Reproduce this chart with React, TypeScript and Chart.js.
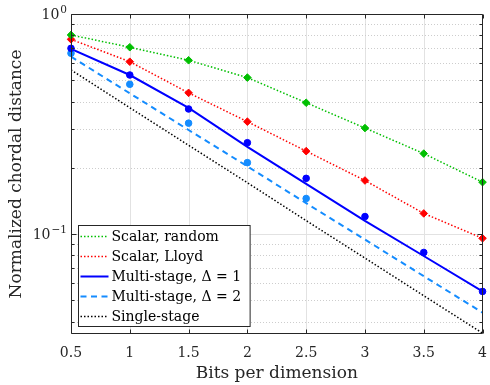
import { useEffect, useRef } from "react";
import { Chart, registerables } from "chart.js";

Chart.register(...registerables);

// ---------- data ----------
const bits = [0.5, 1, 1.5, 2, 2.5, 3, 3.5, 4];
const xTickLabels = ["0.5", "1", "1.5", "2", "2.5", "3", "3.5", "4"];

const scalarRandom = [0.803, 0.706, 0.616, 0.514, 0.395, 0.303, 0.232, 0.172];
const scalarLloyd = [0.767, 0.607, 0.438, 0.324, 0.238, 0.175, 0.124, 0.0956];
const multiStage1Curve = [0.694, 0.528, 0.374, 0.249, 0.169, 0.1146, 0.0794, 0.0548];
const multiStage2Curve = [0.64, 0.436, 0.297, 0.203, 0.138, 0.0943, 0.0643, 0.0439];
const singleStage = [0.557, 0.375, 0.253, 0.171, 0.115, 0.0777, 0.0524, 0.0354];
const multiStage1Sim = [0.698, 0.528, 0.37, 0.26, 0.179, 0.12, 0.0824, 0.0548];
const bitsSim2 = [0.5, 1, 1.5, 2, 2.5];
const multiStage2Sim = [0.663, 0.479, 0.319, 0.211, 0.145];

const yMajorTicks = [0.1, 1];
const yTickBase = ["10", "10"];
const yTickExp = ["\u22121", "0"];
const yMinorTicks = [0.04, 0.05, 0.06, 0.07, 0.08, 0.09, 0.2, 0.3, 0.4, 0.5, 0.6, 0.7, 0.8, 0.9];

const GREEN = "rgb(0,191,0)";
const RED = "rgb(255,0,0)";
const BLUE = "rgb(0,0,255)";
const LBLUE = "rgb(20,140,255)";
const AXIS = "rgb(38,38,38)";
const FONT = '"DejaVu Serif", serif';

const pts = (xs: number[], ys: number[]) => xs.map((x, i) => ({ x, y: ys[i] }));

const framePlugin = {
  id: "matlabFrame",
  beforeDatasetsDraw(chart: any) {
    const { ctx, chartArea: a, scales } = chart;
    const x = scales.x;
    const y = scales.y;
    ctx.save();
    ctx.lineWidth = 1;
    ctx.strokeStyle = "rgb(226,226,226)";
    for (const v of bits) {
      const px = Math.round(x.getPixelForValue(v)) + 0.5;
      if (px <= a.left + 1 || px >= a.right - 1) continue;
      ctx.beginPath();
      ctx.moveTo(px, a.top);
      ctx.lineTo(px, a.bottom);
      ctx.stroke();
    }
    ctx.strokeStyle = "rgb(205,205,205)";
    ctx.setLineDash([1, 2]);
    for (const v of yMinorTicks) {
      const py = Math.round(y.getPixelForValue(v)) + 0.5;
      ctx.beginPath();
      ctx.moveTo(a.left, py);
      ctx.lineTo(a.right, py);
      ctx.stroke();
    }
    ctx.setLineDash([]);
    ctx.strokeStyle = "rgb(226,226,226)";
    for (const v of yMajorTicks) {
      const py = Math.round(y.getPixelForValue(v)) + 0.5;
      if (py <= a.top + 1 || py >= a.bottom - 1) continue;
      ctx.beginPath();
      ctx.moveTo(a.left, py);
      ctx.lineTo(a.right, py);
      ctx.stroke();
    }
    ctx.restore();
  },
  afterDatasetsDraw(chart: any) {
    const { ctx, chartArea: a, scales } = chart;
    const x = scales.x;
    const y = scales.y;
    ctx.save();
    const L = Math.round(a.left) + 0.5;
    const R = Math.round(a.right) - 0.5;
    const T = Math.round(a.top) + 0.5;
    const B = Math.round(a.bottom) - 0.5;
    ctx.strokeStyle = AXIS;
    ctx.lineWidth = 1;
    ctx.beginPath();
    ctx.rect(L, T, R - L, B - T);
    ctx.stroke();
    ctx.beginPath();
    for (const v of bits) {
      const px = Math.round(x.getPixelForValue(v)) + 0.5;
      ctx.moveTo(px, B);
      ctx.lineTo(px, B - 4);
      ctx.moveTo(px, T);
      ctx.lineTo(px, T + 4);
    }
    for (const v of yMajorTicks) {
      const py = Math.round(y.getPixelForValue(v)) + 0.5;
      ctx.moveTo(L, py);
      ctx.lineTo(L + 5, py);
      ctx.moveTo(R, py);
      ctx.lineTo(R - 5, py);
    }
    for (const v of yMinorTicks) {
      const py = Math.round(y.getPixelForValue(v)) + 0.5;
      ctx.moveTo(L, py);
      ctx.lineTo(L + 3, py);
      ctx.moveTo(R, py);
      ctx.lineTo(R - 3, py);
    }
    ctx.stroke();

    ctx.fillStyle = AXIS;
    ctx.textBaseline = "alphabetic";
    yMajorTicks.forEach((v, i) => {
      const py = y.getPixelForValue(v);
      const right = a.left - 4;
      ctx.font = `10.5px ${FONT}`;
      const ew = ctx.measureText(yTickExp[i]).width;
      ctx.font = `14px ${FONT}`;
      const bw = ctx.measureText(yTickBase[i]).width;
      ctx.textAlign = "left";
      const bx = right - ew - bw - 1;
      ctx.fillText(yTickBase[i], bx, py + 5);
      ctx.font = `10.5px ${FONT}`;
      ctx.fillText(yTickExp[i], bx + bw + 1, py - 1);
    });

    const items = chart.data.datasets.filter((d: any) => d.inLegend);
    ctx.font = `14px ${FONT}`;
    const maxW = Math.max(...items.map((d: any) => ctx.measureText(d.label).width));
    const rowH = 20;
    const sampleW = 28;
    const lx = Math.round(a.left) + 7.5;
    const h = items.length * rowH + 1;
    const ly = Math.round(a.bottom) - 7.5 - h;
    const w = 2 + sampleW + 3 + maxW + 9;
    ctx.fillStyle = "#fff";
    ctx.fillRect(lx, ly, w, h);
    ctx.strokeStyle = AXIS;
    ctx.lineWidth = 1;
    ctx.setLineDash([]);
    ctx.strokeRect(lx, ly, w, h);
    items.forEach((d: any, i: number) => {
      const cy = ly + 0.5 + rowH * (i + 0.5);
      ctx.save();
      ctx.strokeStyle = d.borderColor;
      ctx.lineWidth = d.borderWidth;
      ctx.setLineDash(d.borderDash || []);
      ctx.beginPath();
      ctx.moveTo(lx + 2, Math.round(cy) + 0.5);
      ctx.lineTo(lx + 2 + sampleW, Math.round(cy) + 0.5);
      ctx.stroke();
      ctx.restore();
      ctx.fillStyle = "#000";
      ctx.textAlign = "left";
      ctx.textBaseline = "middle";
      ctx.font = `14px ${FONT}`;
      ctx.fillText(d.label, lx + 2 + sampleW + 3, cy + 1);
    });
    ctx.restore();
  },
};

export default function App() {
  const ref = useRef<HTMLCanvasElement>(null);
  useEffect(() => {
    const canvas = ref.current!;
    Chart.defaults.font.family = FONT;
    const chart = new Chart(canvas, {
      type: "line",
      data: {
        datasets: [
          {
            label: "Multi-stage sim 1",
            data: pts(bits, multiStage1Sim),
            showLine: false,
            pointStyle: "circle",
            pointRadius: 3.3,
            pointBackgroundColor: BLUE,
            pointBorderColor: BLUE,
            pointBorderWidth: 1,
            borderColor: BLUE,
            clip: false,
          },
          {
            label: "Multi-stage sim 2",
            data: pts(bitsSim2, multiStage2Sim),
            showLine: false,
            pointStyle: "circle",
            pointRadius: 3.3,
            pointBackgroundColor: LBLUE,
            pointBorderColor: LBLUE,
            pointBorderWidth: 1,
            borderColor: LBLUE,
            clip: false,
          },
          {
            label: "Scalar, random",
            inLegend: true,
            data: pts(bits, scalarRandom),
            borderColor: GREEN,
            borderWidth: 1.5,
            borderDash: [1.5, 2],
            pointStyle: "rectRot",
            pointRadius: 3.8,
            pointBackgroundColor: GREEN,
            pointBorderColor: GREEN,
            pointBorderWidth: 1,
            tension: 0,
            clip: false,
          },
          {
            label: "Scalar, Lloyd",
            inLegend: true,
            data: pts(bits, scalarLloyd),
            borderColor: RED,
            borderWidth: 1.5,
            borderDash: [1.5, 2],
            pointStyle: "rectRot",
            pointRadius: 3.8,
            pointBackgroundColor: RED,
            pointBorderColor: RED,
            pointBorderWidth: 1,
            tension: 0,
            clip: false,
          },
          {
            label: "Multi-stage, \u0394 = 1",
            inLegend: true,
            data: pts(bits, multiStage1Curve),
            borderColor: BLUE,
            borderWidth: 2,
            pointRadius: 0,
            tension: 0,
          },
          {
            label: "Multi-stage, \u0394 = 2",
            inLegend: true,
            data: pts(bits, multiStage2Curve),
            borderColor: LBLUE,
            borderWidth: 2,
            borderDash: [6, 4.5],
            pointRadius: 0,
            tension: 0,
          },
          {
            label: "Single-stage",
            inLegend: true,
            data: pts(bits, singleStage),
            borderColor: "#000",
            borderWidth: 1.5,
            borderDash: [1.5, 2],
            pointRadius: 0,
            tension: 0,
          },
        ] as any,
      },
      options: {
        responsive: false,
        animation: false,
        devicePixelRatio: 1,
        layout: { padding: { top: 14, right: 4, left: 0, bottom: 0 } },
        plugins: { legend: { display: false }, tooltip: { enabled: false } },
        scales: {
          x: {
            type: "linear",
            min: 0.5,
            max: 4,
            afterBuildTicks: (s: any) => {
              s.ticks = bits.map((v) => ({ value: v }));
            },
            ticks: {
              padding: 3,
              color: AXIS,
              font: { size: 14, family: FONT },
              autoSkip: false,
              maxRotation: 0,
              callback: (_v: any, i: number) => xTickLabels[i],
            },
            grid: { display: false },
            border: { display: false },
            title: {
              display: true,
              text: "Bits per dimension",
              color: AXIS,
              font: { size: 17, family: FONT },
              padding: { top: 0, bottom: 1 },
            },
            afterFit: (s: any) => {
              s.height = 51;
            },
          },
          y: {
            type: "logarithmic",
            min: 0.0351,
            max: 1,
            ticks: { display: false },
            grid: { display: false },
            border: { display: false },
            title: {
              display: true,
              text: "Normalized chordal distance",
              color: AXIS,
              font: { size: 17, family: FONT },
              padding: { top: 6, bottom: 0 },
            },
            afterFit: (s: any) => {
              s.width = 71;
            },
          },
        },
      } as any,
      plugins: [framePlugin],
    });
    return () => chart.destroy();
  }, []);
  return (
    <div style={{ position: "fixed", left: 0, top: 0, width: 490, height: 385, background: "#fff" }}>
      <canvas ref={ref} width={490} height={385} style={{ display: "block", width: 490, height: 385 }} />
    </div>
  );
}
